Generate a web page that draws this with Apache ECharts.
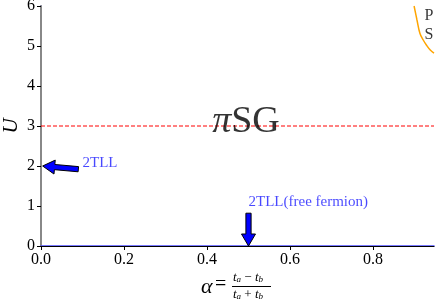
<!DOCTYPE html>
<html><head><meta charset="utf-8">
<script src="https://cdn.jsdelivr.net/npm/echarts@6/dist/echarts.min.js"></script>
<style>html,body{margin:0;padding:0;background:#fff}#c{width:436px;height:304px}</style>
</head><body><div id="c"></div>
<script>
var xTicks = [0, 0.2, 0.4, 0.6, 0.8];
var yTicks = [0, 1, 2, 3, 4, 5, 6];
var xMax = 0.947;
var boundaryX = [0.899, 0.906, 0.913, 0.921, 0.929, 0.938, 0.947];
var boundaryU = [6.0, 5.65, 5.32, 5.15, 5.02, 4.90, 4.82];
var dashedU = 3;
// arrows: [x_tail, U_tail, x_head, U_head]
var arrows = [[0.09, 1.92, 0.004, 2.0], [0.5, 0.82, 0.5, 0.0]];
var labels = [
  {name: '2TLL', x: 0.1, u: 2.08},
  {name: '2TLL(free fermion)', x: 0.5, u: 1.1}
];
var phaseLabel = {x: 0.494, u: 3.11};
var psLabels = [{name: 'P', x: 0.935, u: 5.75}, {name: 'S', x: 0.935, u: 5.28}];

var FONT = "'Liberation Serif', 'DejaVu Serif', serif";
var chart = echarts.init(document.getElementById('c'), null, {renderer: 'canvas'});
var option = {
  animation: false,
  grid: {left: 41, right: 2, top: 6, bottom: 58, show: false, containLabel: false, outerBoundsMode: 'none'},
  xAxis: [{
    type: 'value', min: 0, max: xMax, interval: 0.2,
    axisLine: {show: true, onZero: false, lineStyle: {color: '#4d4dff', width: 1.5}},
    axisTick: {show: true, length: 4, customValues: xTicks, lineStyle: {color: '#000'}},
    axisLabel: {customValues: xTicks, formatter: function (v) { return v.toFixed(1); },
      color: '#000', fontFamily: FONT, fontSize: 16, margin: 6},
    splitLine: {show: false}
  }, {
    type: 'value', position: 'top', min: 0, max: xMax,
    axisLine: {show: true, lineStyle: {color: '#000', width: 1}},
    axisTick: {show: false}, axisLabel: {show: false}, splitLine: {show: false}
  }],
  yAxis: [{
    type: 'value', min: 0, max: 6, interval: 1,
    axisLine: {show: true, onZero: false, lineStyle: {color: '#4d4dff', width: 1.5}},
    axisTick: {show: true, length: 4, lineStyle: {color: '#000'}},
    axisLabel: {color: '#000', fontFamily: FONT, fontSize: 16, margin: 6},
    splitLine: {show: false}
  }, {
    type: 'value', position: 'right', min: 0, max: 6,
    axisLine: {show: true, lineStyle: {color: '#888', width: 2}},
    axisTick: {show: false}, axisLabel: {show: false}, splitLine: {show: false}
  }],
  graphic: [
    {type: 'text', x: 11, y: 126, rotation: Math.PI / 2,
      style: {text: 'U', font: "italic 21px " + FONT, fill: '#000', align: 'center', verticalAlign: 'middle'}},
    {type: 'text', left: 201, top: 276, style: {text: 'α', font: "italic 22px " + FONT, fill: '#000'}},
    {type: 'text', left: 215, top: 275, style: {text: '=', font: "20px " + FONT, fill: '#000'}},
    {type: 'text', left: 233, top: 271, style: {
      text: '{i|t}{s|a}{o| − }{i|t}{s|b}',
      rich: {i: {fontFamily: FONT, fontStyle: 'italic', fontSize: 13, fill: '#000'},
             s: {fontFamily: FONT, fontStyle: 'italic', fontSize: 9, fill: '#000', padding: [5, 0, 0, 0]},
             o: {fontFamily: FONT, fontSize: 13, fill: '#000'}}}},
    {type: 'line', shape: {x1: 232, y1: 286.5, x2: 271, y2: 286.5}, style: {stroke: '#000', lineWidth: 1}},
    {type: 'text', left: 233, top: 288, style: {
      text: '{i|t}{s|a}{o| + }{i|t}{s|b}',
      rich: {i: {fontFamily: FONT, fontStyle: 'italic', fontSize: 13, fill: '#000'},
             s: {fontFamily: FONT, fontStyle: 'italic', fontSize: 9, fill: '#000', padding: [5, 0, 0, 0]},
             o: {fontFamily: FONT, fontSize: 13, fill: '#000'}}}}
  ],
  series: [
    {
      type: 'line', data: [[0, dashedU], [xMax, dashedU]], symbol: 'none',
      lineStyle: {color: '#ff0000', type: [4, 2], width: 1}, z: 2
    },
    {
      type: 'line', data: boundaryX.map(function (x, i) { return [x, boundaryU[i]]; }),
      symbol: 'none', smooth: 0.4, lineStyle: {color: '#ffa500', width: 1.5}, z: 3
    },
    {
      type: 'custom', data: arrows, encode: {x: [0, 2], y: [1, 3]}, z: 5,
      renderItem: function (params, api) {
        var p0 = api.coord([api.value(0), api.value(1)]);
        var p1 = api.coord([api.value(2), api.value(3)]);
        var dx = p1[0] - p0[0], dy = p1[1] - p0[1];
        var L = Math.sqrt(dx * dx + dy * dy);
        var ux = dx / L, uy = dy / L, nx = -uy, ny = ux;
        var w = 2.6, hw = 7, hl = 12;
        var bx = p1[0] - ux * hl, by = p1[1] - uy * hl;
        var pts = [
          [p0[0] + nx * w, p0[1] + ny * w],
          [bx + nx * w, by + ny * w],
          [bx + nx * hw, by + ny * hw],
          [p1[0], p1[1]],
          [bx - nx * hw, by - ny * hw],
          [bx - nx * w, by - ny * w],
          [p0[0] - nx * w, p0[1] - ny * w]
        ];
        return {type: 'polygon', shape: {points: pts}, style: {fill: '#0000ff', stroke: '#000', lineWidth: 1}};
      }
    },
    {
      type: 'scatter', symbolSize: 0, z: 6,
      data: labels.map(function (d) { return {name: d.name, value: [d.x, d.u]}; }),
      label: {show: true, position: 'right', distance: 0, formatter: '{b}',
        color: '#1a1aff', fontFamily: FONT, fontSize: 15}
    },
    {
      type: 'scatter', symbolSize: 0, z: 6,
      data: psLabels.map(function (d) { return {name: d.name, value: [d.x, d.u]}; }),
      label: {show: true, position: 'inside', formatter: '{b}', color: '#000', fontFamily: FONT, fontSize: 16}
    },
    {
      type: 'scatter', symbolSize: 0, z: 6,
      data: [{name: 'πSG', value: [phaseLabel.x, phaseLabel.u]}],
      label: {show: true, position: 'inside', formatter: '{a|π}{b|SG}',
        rich: {a: {fontFamily: FONT, fontStyle: 'italic', fontSize: 38, color: '#000'},
               b: {fontFamily: FONT, fontSize: 38, color: '#000'}}}
    }
  ]
};
chart.setOption(option);
</script></body></html>
